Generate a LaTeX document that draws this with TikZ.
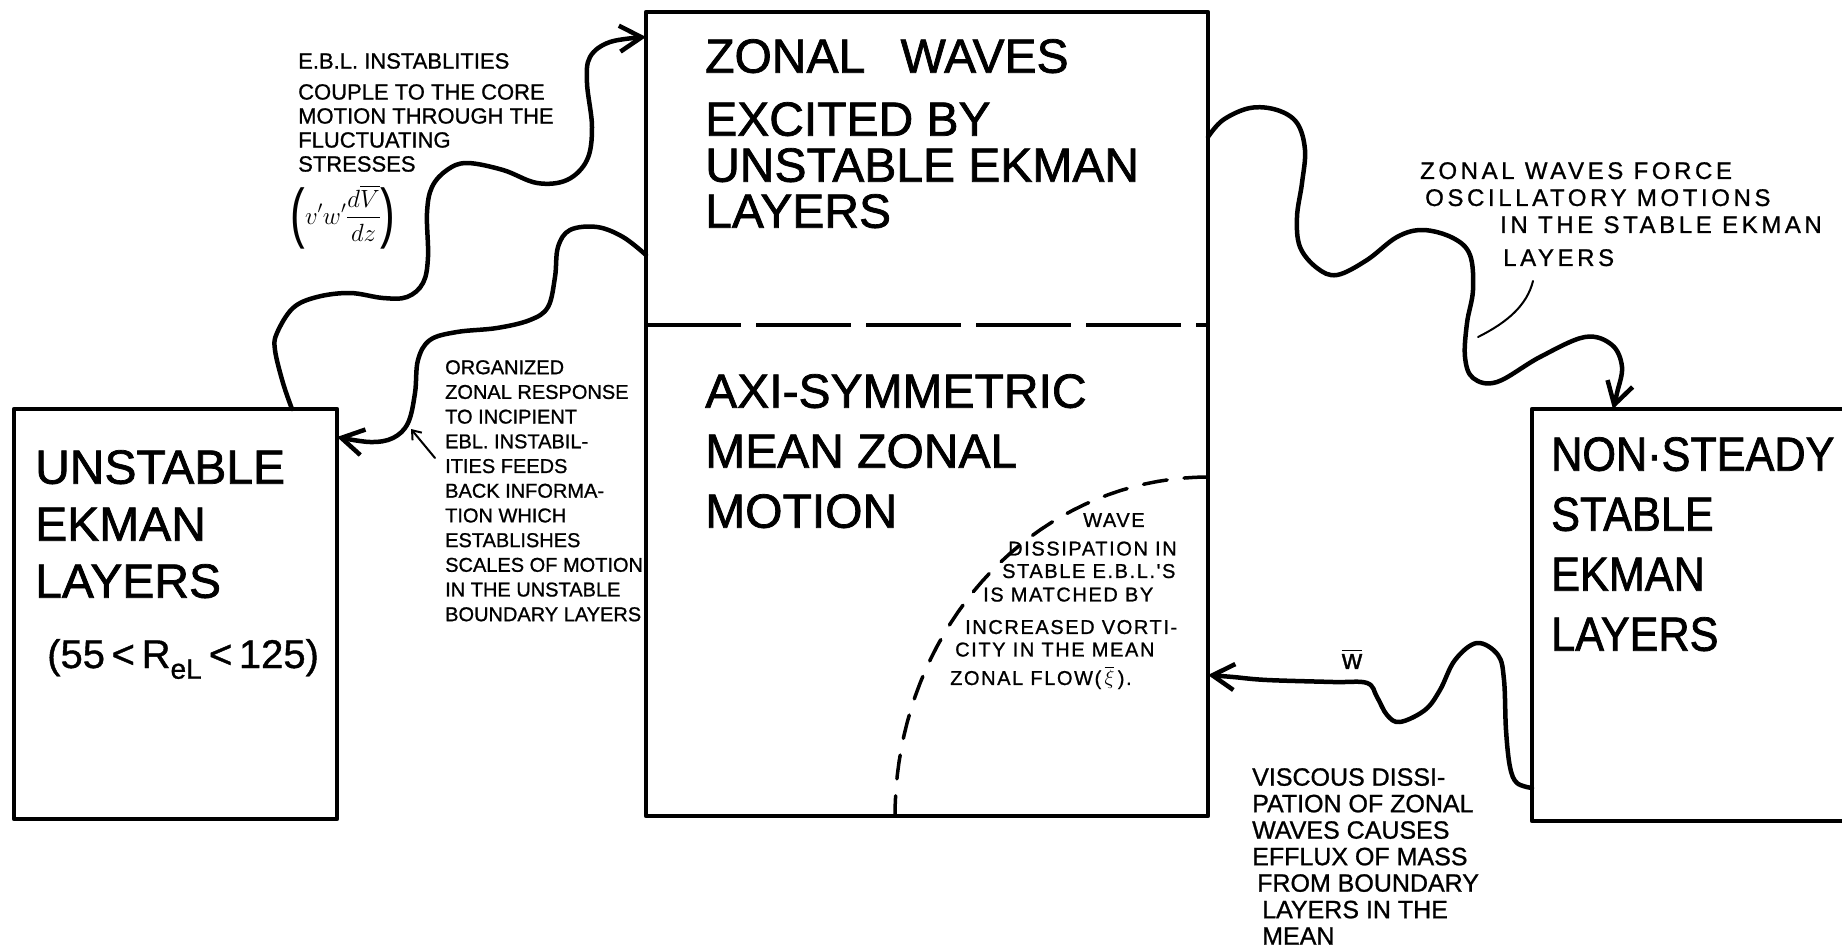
\documentclass[tikz,border=0pt]{standalone}
\usepackage{amsmath}
\usepackage{graphicx}
\usepackage{fontspec}
\usepackage{tikz}
\usetikzlibrary{arrows.meta,positioning,calc}
\newfontfamily\letterfont[FakeBold=1.5]{Liberation Sans}
\newfontfamily\narrowfont[FakeStretch=0.9,FakeBold=1.5]{Liberation Sans}
\newfontfamily\handfont[FakeBold=1]{Liberation Sans}
\newfontfamily\parenfont{Liberation Sans}
\newfontfamily\notefont[LetterSpace=8,FakeBold=1]{Liberation Sans}
\newfontfamily\widenotefont[LetterSpace=15,FakeBold=1]{Liberation Sans}
\newcommand{\tallparen}[1]{\raisebox{-11pt}{\scalebox{1}[1.5]{\parenfont\fontsize{44}{44}\selectfont#1}}}

\begin{document}
\begin{tikzpicture}[x=1pt, y=-1pt, >={Straight Barb[length=22pt,width=26pt]},
  box/.style={draw, line width=4.5pt, line join=round, inner sep=0pt, outer sep=0pt},
  big/.style={anchor=north west, inner sep=0pt, align=left, font=\letterfont\fontsize{48}{57}\selectfont},
  note/.style={anchor=north west, inner sep=0pt, align=left, font=\notefont\fontsize{21}{22}\selectfont},
  wave/.style={line width=4.5pt, line cap=round, line join=round, ->},
  pointer/.style={line width=2pt, line cap=round},
  divider/.style={line width=4pt, dash pattern=on 95pt off 15pt},
  arcline/.style={line width=3.5pt, line cap=round, dash pattern=on 24pt off 17pt}]

  \useasboundingbox (0,0) rectangle (1842,947);
  \clip (0,0) rectangle (1842,947);

  % Define the boxes
  \node[box, minimum width=323pt, minimum height=410pt] (U) at (175.5,614) {};
  \node[box, minimum width=562pt, minimum height=804pt] (M) at (927,414) {};
  \node[box, minimum width=330pt, minimum height=412pt] (S) at (1697,615) {};
  \draw[divider] ($(M.north west)+(0,313)$) -- ($(M.north east)+(0,313)$);
  \draw[arcline, shift={(M.south east)}] plot[domain=90:180, samples=40] ({313*cos(\x)}, {-339*sin(\x)});

  % Box labels
  \node[big] (u1) at (35,450) {UNSTABLE\\EKMAN\\LAYERS};
  \node[anchor=base west, inner sep=0pt, font=\handfont\fontsize{40}{46}\selectfont] (u2) at (47,668) {(55\,<\,R\textsubscript{eL}\,<\,125)};
  \node[big, font=\letterfont\fontsize{48}{46}\selectfont] (m1) at (705,39) {ZONAL\hspace{22pt} WAVES\\[17pt]EXCITED BY\\UNSTABLE EKMAN\\LAYERS};
  \node[big, font=\letterfont\fontsize{48}{60}\selectfont] (m2) at (705,374) {AXI-SYMMETRIC\\MEAN ZONAL\\MOTION};
  \node[big, font=\narrowfont\fontsize{48}{60}\selectfont] (s1) at (1551,437) {NON·STEADY\\STABLE\\EKMAN\\LAYERS};

  % Notes
  \node[note, font=\handfont\fontsize{22}{24}\selectfont] (n1) at (298,53) {E.B.L. INSTABLITIES\\[7pt]COUPLE TO THE CORE\\MOTION THROUGH THE\\FLUCTUATING\\STRESSES};
  \node[inner sep=0pt, font=\fontsize{23}{28}\selectfont] (n1f) at (343,217) {\tallparen{(}$\displaystyle v'w'\frac{d\overline{V}}{dz}$\tallparen{)}};
  \node[note, font=\handfont\fontsize{20}{24.7}\selectfont] (n2) at (445,360) {ORGANIZED\\ZONAL RESPONSE\\TO INCIPIENT\\EBL. INSTABIL-\\ITIES FEEDS\\BACK INFORMA-\\TION WHICH\\ESTABLISHES\\SCALES OF MOTION\\IN THE UNSTABLE\\BOUNDARY LAYERS};
  \node[note, font=\notefont\fontsize{20}{22.5}\selectfont] (n3) at (950,513) {\hspace*{133pt}WAVE\\[6pt]\hspace*{58pt}DISSIPATION IN\\\hspace*{52pt}STABLE E.B.L.'S\\[1pt]\hspace*{33pt}IS MATCHED BY\\[10pt]\hspace*{15pt}INCREASED VORTI-\\\hspace*{5pt}CITY IN THE MEAN\\[6pt]ZONAL FLOW(\,$\overline{\xi}$\,).};
  \node[note, font=\widenotefont\fontsize{24}{27}\selectfont] (n4) at (1420,162) {ZONAL WAVES FORCE\\\hspace*{5pt}OSCILLATORY MOTIONS\\\hspace*{80pt}IN THE STABLE EKMAN\\[6pt]\hspace*{83pt}LAYERS};
  \node[note, font=\handfont\fontsize{25}{26.5}\selectfont] (n5) at (1252,768) {VISCOUS DISSI-\\PATION OF ZONAL\\WAVES CAUSES\\EFFLUX OF MASS\\\hspace*{5pt}FROM BOUNDARY\\\hspace*{10pt}LAYERS IN THE\\\hspace*{10pt}MEAN};
  \node[inner sep=0pt, font=\handfont\fontsize{28}{32}\selectfont] (w) at (1352,659) {$\overline{\mbox{w}}$};

  % Ends of the wavy arrows
  \coordinate (a0) at ($(U.north west)+(278,0)$);
  \coordinate (a1) at ($(M.north west)+(0,25)$);
  \coordinate (b0) at ($(M.north west)+(0,243)$);
  \coordinate (b1) at ($(U.north east)+(0,28)$);
  \coordinate (c0) at ($(M.north east)+(0,125)$);
  \coordinate (c1) at ($(S.north west)+(81,0)$);
  \coordinate (d0) at ($(S.south west)+(0,-33)$);
  \coordinate (d1) at ($(M.south east)+(0,-141)$);

  % Draw wavy arrows between boxes
  \draw[wave] plot[smooth, tension=0.6] coordinates {(a0) (283,383) (275,350) (277,333) (293,308) (317,297) (350,293) (383,298) (407,297) (423,283) (428,257) (427,213) (432,187) (447,170) (467,163) (503,170) (537,183) (567,180) (587,160) (592,127) (587,83) (590,57) (610,42) (a1)};
  \draw[wave] plot[smooth, tension=0.6] coordinates {(b0) (623,237) (597,227) (570,230) (558,247) (555,277) (548,307) (530,320) (497,328) (457,332) (430,340) (418,360) (415,393) (408,423) (393,438) (370,442) (b1)};
  \draw[wave] plot[smooth, tension=0.6] coordinates {(c0) (1223,120) (1250,108) (1277,110) (1297,123) (1305,150) (1302,183) (1297,217) (1300,247) (1317,268) (1337,275) (1367,260) (1397,237) (1423,230) (1453,238) (1470,255) (1473,290) (1467,323) (1465,357) (1473,378) (1497,382) (1540,357) (1585,337) (1612,345) (1622,367) (1617,393) (c1)};
  \draw[wave] plot[smooth, tension=0.6] coordinates {(d0) (1517,783) (1510,767) (1506,730) (1504,680) (1498,655) (1477,643) (1455,660) (1440,690) (1425,710) (1400,722) (1387,715) (1377,697) (1367,683) (1333,682) (1267,680) (1233,677) (d1)};

  % Pointers from the notes
  \coordinate (p1) at (435,458);
  \coordinate (p1h) at (411,429);
  \coordinate (p2) at (1533,281);
  \coordinate (p2h) at (1478,337);
  \draw[pointer, -{Straight Barb[length=8pt,width=12pt]}] (p1) -- (p1h);
  \draw[pointer] (p2) .. controls (1527,305) and (1508,322) .. (p2h);
\end{tikzpicture}
\end{document}
